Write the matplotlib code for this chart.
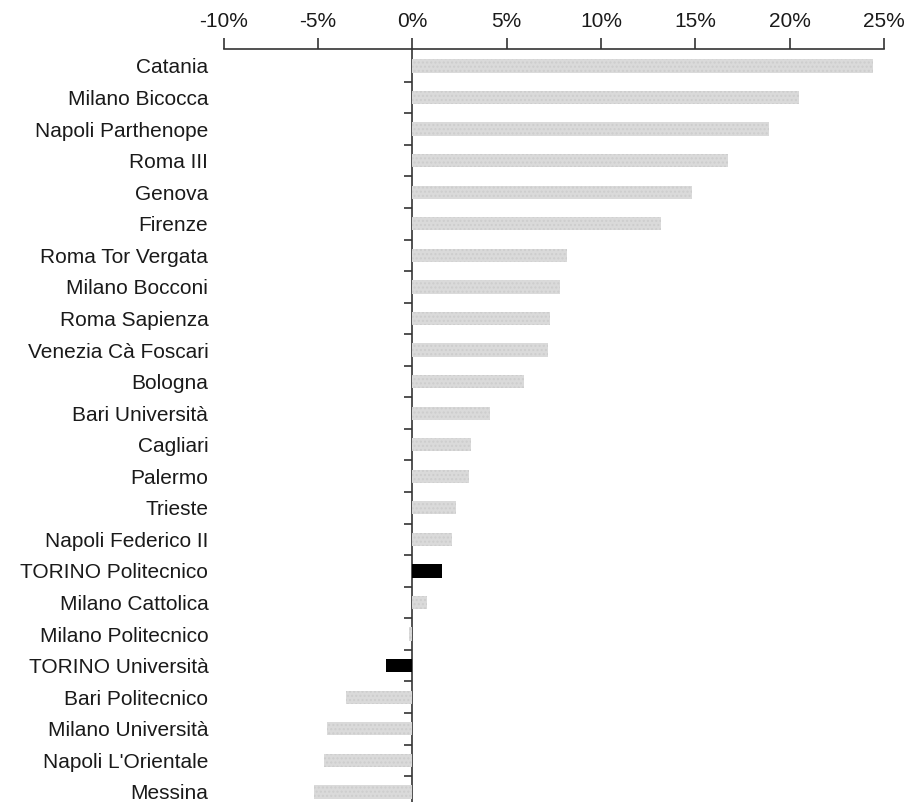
import numpy as np
import matplotlib.pyplot as plt
from matplotlib.ticker import FuncFormatter

plt.rcParams['font.family'] = ['Liberation Sans', 'DejaVu Sans']

# Data (percent change)
universities = [
    "Catania", "Milano Bicocca", "Napoli Parthenope", "Roma III", "Genova",
    "Firenze", "Roma Tor Vergata", "Milano Bocconi", "Roma Sapienza",
    "Venezia Cà Foscari", "Bologna", "Bari Università", "Cagliari", "Palermo",
    "Trieste", "Napoli Federico II", "TORINO Politecnico", "Milano Cattolica",
    "Milano Politecnico", "TORINO Università", "Bari Politecnico",
    "Milano Università", "Napoli L'Orientale", "Messina",
]
values = [
    24.4, 20.5, 18.9, 16.7, 14.8, 13.2, 8.2, 7.8, 7.3, 7.2, 5.9, 4.1,
    3.1, 3.0, 2.3, 2.1, 1.6, 0.8, -0.15, -1.4, -3.5, -4.5, -4.7, -5.2,
]
highlight = ["TORINO Politecnico", "TORINO Università"]
x_ticks = [-10, -5, 0, 5, 10, 15, 20, 25]

fig = plt.figure(figsize=(9.05, 8.02), dpi=100)
ax = fig.add_axes([0.247, 0.0, 0.730, 0.939])

y = np.arange(len(universities))
colors = ["black" if u in highlight else "#dadada" for u in universities]
bars = ax.barh(y, values, height=0.42, color=colors, linewidth=0)
for b, u in zip(bars, universities):
    if u not in highlight:
        b.set_hatch("....")
        b.set_edgecolor("#cdcdcd")
        b.set_linewidth(0)

ax.set_xlim(-10, 25)
ax.set_ylim(23.32, -0.54)

# x axis on top
ax.xaxis.tick_top()
ax.set_xticks(x_ticks)
ax.xaxis.set_major_formatter(FuncFormatter(lambda v, p: f"{v:.0f}%"))
ax.tick_params(axis="x", length=8, width=1.2, color="#333333", labelsize=15,
               labelcolor="#1a1a1a", pad=5)

# category labels on the left
ax.set_yticks(y)
ax.set_yticklabels(universities)
ax.tick_params(axis="y", length=0, labelsize=15, labelcolor="#1a1a1a", pad=11)

for s in ["left", "right", "bottom"]:
    ax.spines[s].set_visible(False)
ax.spines["top"].set_linewidth(1.2)
ax.spines["top"].set_color("#333333")

# zero line with boundary ticks
zero_frac = (0 - (-10)) / (25 - (-10))
sec = ax.secondary_yaxis(zero_frac)
sec.set_yticks(np.arange(len(universities) - 1) + 0.5)
sec.set_yticklabels([])
sec.tick_params(length=6, width=1.2, color="#333333")
sec.spines["left"].set_linewidth(1.2)
sec.spines["left"].set_color("#333333")

fig.savefig("out.png", dpi=100)
